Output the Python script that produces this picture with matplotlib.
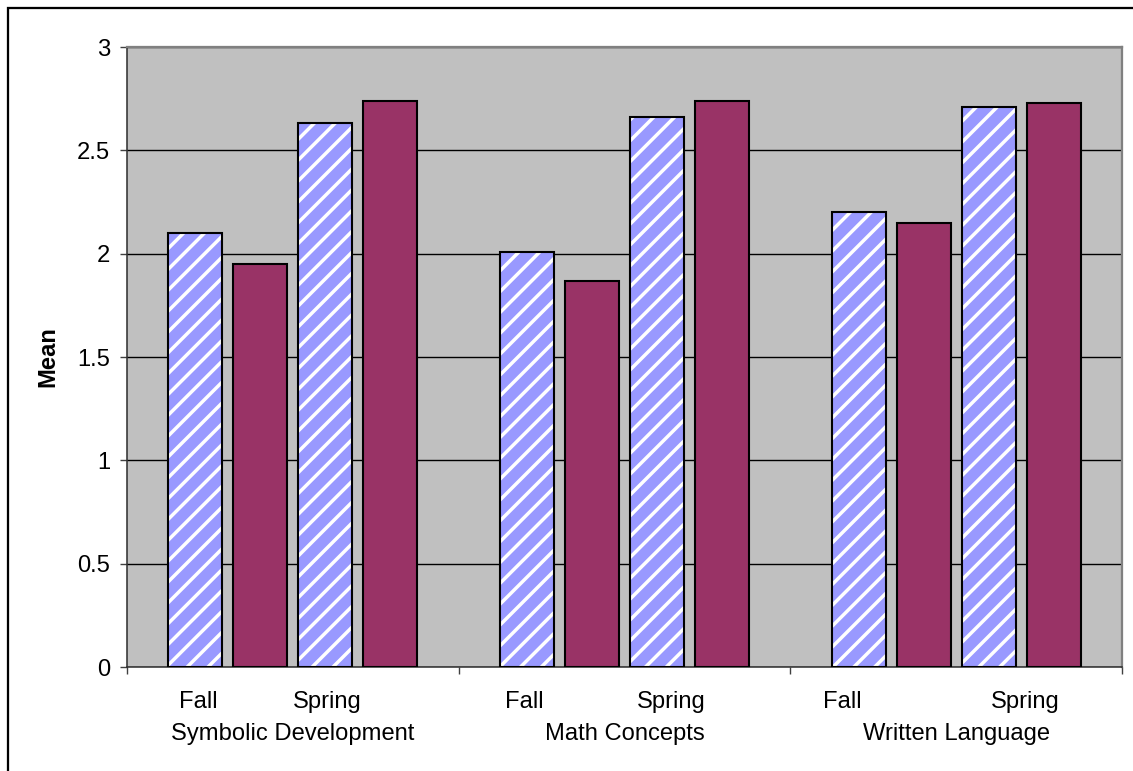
import matplotlib
matplotlib.use("Agg")
import matplotlib.pyplot as plt
import matplotlib.transforms as mtransforms
from matplotlib.patches import Rectangle
import numpy as np

# ---- data ----
domains = ["Symbolic Development", "Math Concepts", "Written Language"]
terms = ["Fall", "Spring"]
hatched_fall = [2.10, 2.01, 2.20]
hatched_spring = [2.63, 2.66, 2.71]
solid_fall = [1.95, 1.87, 2.15]
solid_spring = [2.74, 2.74, 2.73]
y_ticks = [0, 0.5, 1, 1.5, 2, 2.5, 3]
y_tick_labels = ["0", "0.5", "1", "1.5", "2", "2.5", "3"]

# ---- styling ----
DPI = 125
W, H = 1133, 771
plt.rcParams["font.family"] = ["Liberation Sans", "DejaVu Sans"]
plt.rcParams["hatch.linewidth"] = 2.0
FS = 13.7
blue = "#9999FF"
maroon = "#993366"
panel = "#C0C0C0"

fig = plt.figure(figsize=(W / DPI, H / DPI), dpi=DPI)
fig.patch.set_facecolor("white")
ax = fig.add_axes([127 / W, 1 - 667 / H, (1122 - 127) / W, (667 - 47) / H])
ax.set_facecolor(panel)

x = np.arange(len(domains))
step = 0.196
bw = 0.162
offsets = np.array([-1.5, -0.5, 0.5, 1.5]) * step

series = [
    (hatched_fall, "hatched"),
    (solid_fall, "solid"),
    (hatched_spring, "hatched"),
    (solid_spring, "solid"),
]
for off, (vals, kind) in zip(offsets, series):
    if kind == "hatched":
        ax.bar(x + off, vals, width=bw, color=blue, edgecolor="white",
               hatch="//", linewidth=0, zorder=3)
        ax.bar(x + off, vals, width=bw, facecolor="none", edgecolor="black",
               linewidth=1.2, zorder=4)
    else:
        ax.bar(x + off, vals, width=bw, color=maroon, edgecolor="black",
               linewidth=1.2, zorder=3)

ax.set_xlim(-0.5, len(domains) - 0.5)
ax.set_ylim(0, 3)
ax.set_yticks(y_ticks)
ax.set_yticklabels(y_tick_labels, fontsize=FS)
ax.yaxis.grid(True, color="black", linewidth=0.8, zorder=1)
ax.set_axisbelow(True)

ax.set_xticks(np.arange(len(domains) + 1) - 0.5)
ax.set_xticklabels([])
ax.tick_params(axis="both", direction="out", length=4.2, width=0.8,
               color="#404040")
ax.tick_params(axis="y", pad=5.5)

for side in ("left", "bottom"):
    ax.spines[side].set_color("#303030")
    ax.spines[side].set_linewidth(0.9)
for side in ("top", "right"):
    ax.spines[side].set_color("#808080")
    ax.spines[side].set_linewidth(1.3)

# two-level category labels beneath the axis
trans = mtransforms.blended_transform_factory(ax.transData, fig.transFigure)
term_pos = [(-0.286, 0.105), (0.699, 1.142), (1.657, 2.208)]
for d, name in enumerate(domains):
    for t, term in enumerate(terms):
        ax.text(term_pos[d][t], 1 - 708 / H, term, transform=trans,
                ha="center", va="baseline", fontsize=FS, clip_on=False)
    ax.text(x[d], 1 - 740 / H, name, transform=trans, ha="center",
            va="baseline", fontsize=FS, clip_on=False)

fig.text(48 / W, 1 - 357 / H, "Mean", rotation=90, ha="center", va="center",
         fontsize=FS, fontweight="bold")

# chart frame
fig.patches.append(Rectangle((8 / W, -0.2), 1.2, 1 - 8 / H + 0.2,
                             transform=fig.transFigure, facecolor="none",
                             edgecolor="black", linewidth=1.3))

fig.savefig("out.png", dpi=DPI)
